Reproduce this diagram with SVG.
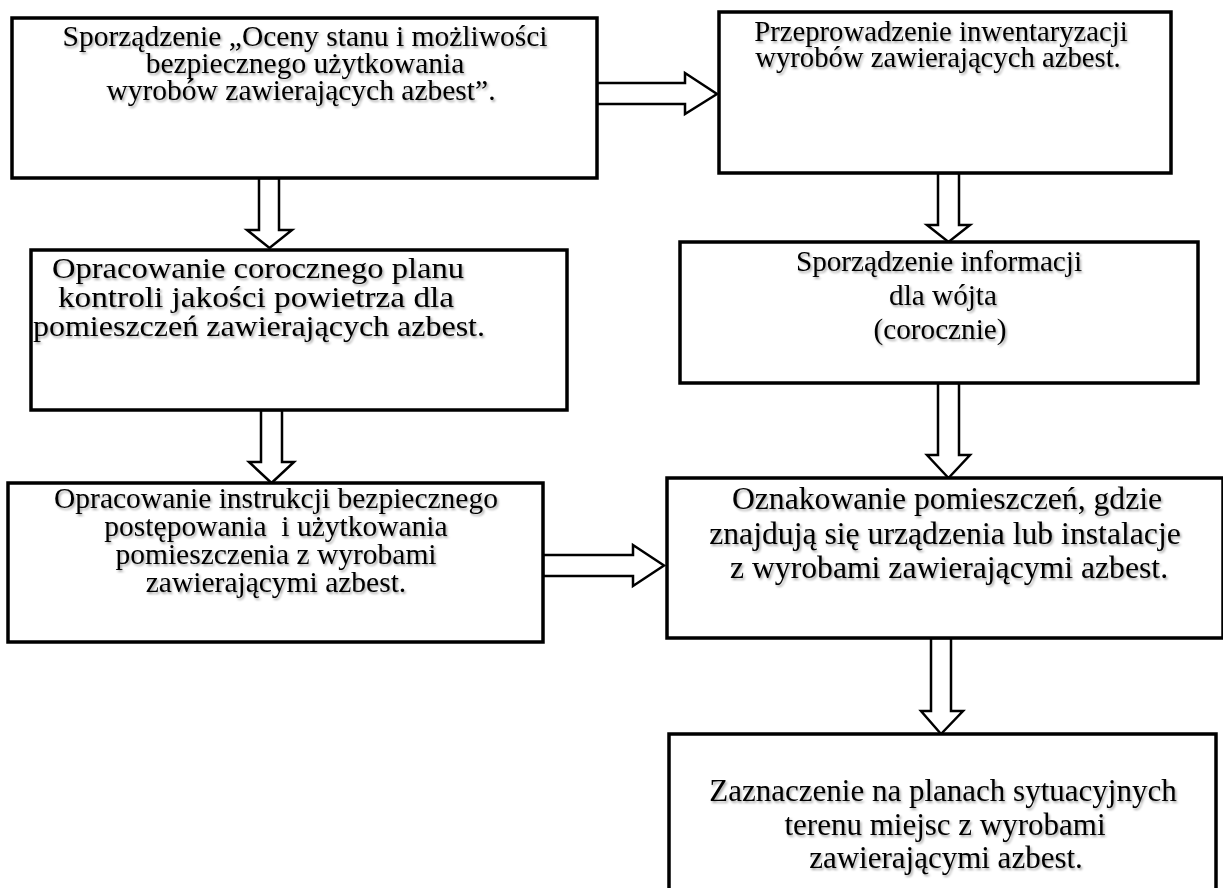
<svg xmlns="http://www.w3.org/2000/svg" width="1223" height="888" viewBox="0 0 1223 888">
<defs>
<filter id="sh" x="-5%" y="-20%" width="110%" height="150%">
<feDropShadow dx="1.5" dy="2" stdDeviation="0.8" flood-color="#000" flood-opacity="0.35"/>
</filter>
</defs>
<style>
.box{fill:#fff;stroke:#000;stroke-width:3.5}
.arr{fill:#fff;stroke:#000;stroke-width:2.5;stroke-linejoin:miter}
text{font-family:"Liberation Serif","Times New Roman",serif;fill:#000;text-anchor:middle;filter:url(#sh)}
</style>
<rect width="1223" height="888" fill="#fff"/>
<g id="connectors">
<polygon class="arr" points="597,83 685,83 685,73 717,94 685,114 685,104 597,104"/>
<polygon class="arr" points="259,178 279,178 279,230 292,230 269.5,248 247,230 259,230"/>
<polygon class="arr" points="261,410 282,410 282,462 294,462 271.5,483 249,462 261,462"/>
<polygon class="arr" points="938,173 959,173 959,225 970,225 948.5,242 927,225 938,225"/>
<polygon class="arr" points="938,383 959,383 959,455 970,455 948.5,478 927,455 938,455"/>
<polygon class="arr" points="931,638 951,638 951,711 963,711 941,734 921,711 931,711"/>
<polygon class="arr" points="543,555 633,555 633,545 664,565.5 633,586 633,576 543,576"/>
</g>
<g id="n1">
<rect class="box" x="12" y="18" width="585" height="160"/>
<text font-size="29.5"><tspan x="305" y="46">Sporządzenie „Oceny stanu i możliwości</tspan><tspan x="305" y="73">bezpiecznego użytkowania</tspan><tspan x="301" y="100">wyrobów zawierających azbest”.</tspan></text>
</g>
<g id="n2">
<rect class="box" x="719" y="12" width="452" height="161"/>
<text font-size="28.7"><tspan x="941" y="41">Przeprowadzenie inwentaryzacji</tspan><tspan x="938" y="67">wyrobów zawierających azbest.</tspan></text>
</g>
<g id="n3">
<rect class="box" x="31" y="250" width="536" height="160"/>
<text font-size="30"><tspan x="258" y="278" textLength="412" lengthAdjust="spacingAndGlyphs">Opracowanie corocznego planu</tspan><tspan x="256" y="307" textLength="396" lengthAdjust="spacingAndGlyphs">kontroli jakości powietrza dla</tspan><tspan x="259" y="336" textLength="452" lengthAdjust="spacingAndGlyphs">pomieszczeń zawierających azbest.</tspan></text>
</g>
<g id="n4">
<rect class="box" x="8" y="483" width="535" height="159"/>
<text font-size="29.5" xml:space="preserve"><tspan x="276" y="508">Opracowanie instrukcji bezpiecznego</tspan><tspan x="276" y="536">postępowania  i użytkowania</tspan><tspan x="276" y="564">pomieszczenia z wyrobami</tspan><tspan x="276" y="592">zawierającymi azbest.</tspan></text>
</g>
<g id="n5">
<rect class="box" x="680" y="242" width="518" height="141"/>
<text font-size="29.2"><tspan x="939" y="271">Sporządzenie informacji</tspan><tspan x="943" y="305">dla wójta</tspan><tspan x="940" y="339">(corocznie)</tspan></text>
</g>
<g id="n6">
<rect class="box" x="667" y="478" width="556" height="160"/>
<text font-size="31.7"><tspan x="947" y="509">Oznakowanie pomieszczeń, gdzie</tspan><tspan x="945" y="544">znajdują się urządzenia lub instalacje</tspan><tspan x="949" y="578">z wyrobami zawierającymi azbest.</tspan></text>
</g>
<g id="n7">
<rect class="box" x="669" y="734" width="547" height="170"/>
<text font-size="31"><tspan x="943" y="801">Zaznaczenie na planach sytuacyjnych</tspan><tspan x="945" y="835">terenu miejsc z wyrobami</tspan><tspan x="946" y="868">zawierającymi azbest.</tspan></text>
</g>
</svg>
